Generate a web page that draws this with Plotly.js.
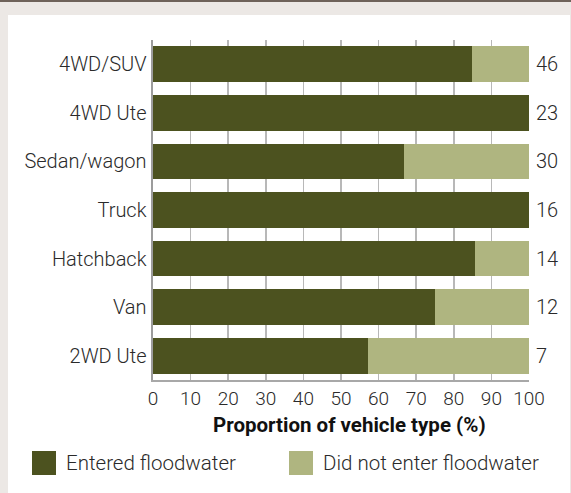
<!DOCTYPE html>
<html>
<head>
<meta charset="utf-8">
<script src="https://cdn.plot.ly/plotly-3.0.1.min.js"></script>
<style>
  html, body { margin: 0; padding: 0; }
  body { width: 571px; height: 493px; background: #ece8e5; position: relative; overflow: hidden; }
  #topline { position: absolute; left: 0; top: 0; width: 571px; height: 2px; background: #6e625a; }
  #chart { position: absolute; left: 8px; top: 15px; width: 562px; height: 478px; background: #ffffff; }
</style>
</head>
<body>
<div id="topline"></div>
<div id="chart"></div>
<script>
// ---- Data ----
const categories = ['4WD/SUV', '4WD Ute', 'Sedan/wagon', 'Truck', 'Hatchback', 'Van', '2WD Ute'];
const enteredPct = [84.8, 100, 66.7, 100, 85.7, 75.0, 57.1];
const notEnteredPct = [15.2, 0, 33.3, 0, 14.3, 25.0, 42.9];
const totals = [46, 23, 30, 16, 14, 12, 7];
const seriesNames = ['Entered floodwater', 'Did not enter floodwater'];
const xTickVals = [0, 10, 20, 30, 40, 50, 60, 70, 80, 90, 100];
const xTitle = 'Proportion of vehicle type (%)';

// ---- Style ----
const DARK = '#4c521f';
const LIGHT = '#afb580';
const TEXT = '#2a2a2a';
const FONT = 'Roboto, "Open Sans", sans-serif';
const WT = 300;

const W = 562, H = 478;
const M = { l: 145, r: 41, t: 25, b: 113 };
const PW = W - M.l - M.r, PH = H - M.t - M.b;
const px = x => (x - M.l) / PW;          // div pixel -> paper x
const py = y => 1 - (y - M.t) / PH;      // div pixel -> paper y

const traces = [
  { type: 'bar', orientation: 'h', y: categories, x: enteredPct, name: seriesNames[0],
    marker: { color: DARK, line: { width: 0 } }, hoverinfo: 'skip' },
  { type: 'bar', orientation: 'h', y: categories, x: notEnteredPct, name: seriesNames[1],
    marker: { color: LIGHT, line: { width: 0 } }, hoverinfo: 'skip' }
];

const annotations = categories.map((c, i) => ({
  xref: 'x', yref: 'y', x: 100, y: c, text: String(totals[i]),
  xanchor: 'left', yanchor: 'middle', xshift: 5, showarrow: false,
  font: { family: FONT, size: 20, color: TEXT, weight: WT }
}));

annotations.push({
  xref: 'paper', yref: 'paper', x: px(341), y: py(410), text: '<b>' + xTitle + '</b>',
  xanchor: 'center', yanchor: 'middle', showarrow: false,
  font: { family: FONT, size: 20.5, color: '#111111' }
});

// Legend (manual)
const legendItems = [
  { x0: 24, tx: 56, color: DARK, label: seriesNames[0] },
  { x0: 281, tx: 313, color: LIGHT, label: seriesNames[1] }
];
const shapes = [];
legendItems.forEach(it => {
  shapes.push({ type: 'rect', xref: 'paper', yref: 'paper',
    x0: px(it.x0), x1: px(it.x0 + 24), y0: py(436), y1: py(460),
    fillcolor: it.color, line: { width: 0 } });
  annotations.push({ xref: 'paper', yref: 'paper', x: px(it.tx), y: py(448), text: it.label,
    xanchor: 'left', yanchor: 'middle', showarrow: false,
    font: { family: FONT, size: 20.5, color: TEXT, weight: WT } });
});

const layout = {
  width: W, height: H,
  margin: M,
  paper_bgcolor: '#ffffff', plot_bgcolor: '#ffffff',
  barmode: 'stack', bargap: 0.265,
  showlegend: false,
  font: { family: FONT, color: TEXT },
  xaxis: {
    range: [0, 100], tickvals: xTickVals, ticktext: xTickVals.map(String),
    showgrid: true, gridcolor: '#b8b8b8', gridwidth: 1.5,
    showline: true, linecolor: '#a8a8a8', linewidth: 2,
    ticks: '', zeroline: false,
    tickfont: { family: FONT, size: 19, color: TEXT, weight: WT }
  },
  yaxis: {
    autorange: 'reversed', type: 'category',
    showgrid: false, showline: true, linecolor: '#9c9c9c', linewidth: 2.5,
    ticks: '', zeroline: false,
    tickfont: { family: FONT, size: 20, color: TEXT, weight: WT }
  },
  annotations: annotations,
  shapes: shapes
};

Plotly.newPlot('chart', traces, layout, { displayModeBar: false, staticPlot: true });
</script>
</body>
</html>
